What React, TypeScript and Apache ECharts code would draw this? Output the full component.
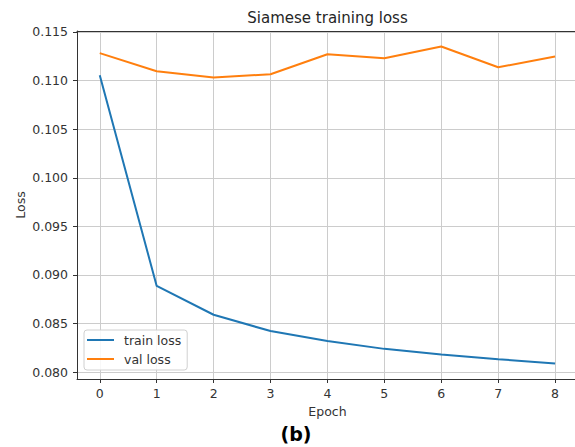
import React, { useEffect, useRef } from "react";
import * as echarts from "echarts";

const epochs = [0, 1, 2, 3, 4, 5, 6, 7, 8];
const trainLoss = [0.11055, 0.08887, 0.08591, 0.08423, 0.0832, 0.0824, 0.08182, 0.08134, 0.0809];
const valLoss = [0.11282, 0.11096, 0.11031, 0.11065, 0.11271, 0.1123, 0.11351, 0.11137, 0.11247];
const yTicks = [0.08, 0.085, 0.09, 0.095, 0.1, 0.105, 0.11, 0.115];
const titleText = "Siamese training loss";
const xName = "Epoch";
const yName = "Loss";
const caption = "(b)";

const FONT = "DejaVu Sans";

export default function App() {
  const ref = useRef<HTMLDivElement>(null);
  useEffect(() => {
    if (!ref.current) return;
    const chart = echarts.init(ref.current, null, { renderer: "svg" });
    const axisColor = "#333";
    const gridColor = "#cccccc";
    const option: any = {
      animation: false,
      backgroundColor: "#ffffff",
      grid: { left: 77, top: 31, right: 0, bottom: 68, containLabel: false },
      xAxis: [
        {
          type: "value",
          min: -0.4,
          max: 8.35,
          splitNumber: 9,
          axisLine: { show: true, lineStyle: { color: axisColor, width: 1 } },
          axisTick: { show: true, length: 4, customValues: epochs, lineStyle: { color: axisColor } },
          axisLabel: {
            margin: 8,
            color: "#333",
            fontFamily: FONT,
            fontSize: 12.5,
            customValues: epochs,
            formatter: (v: number) => String(Math.round(v)),
          },
          splitLine: { show: true, lineStyle: { color: gridColor, width: 1 } },
        },
        {
          type: "value",
          position: "top",
          min: -0.4,
          max: 8.35,
          axisLine: { show: true, onZero: false, lineStyle: { color: axisColor, width: 1 } },
          axisTick: { show: false },
          axisLabel: { show: false },
          splitLine: { show: false },
        },
      ],
      yAxis: {
        type: "value",
        min: 0.0793,
        max: 0.1151,
        splitNumber: 7,
        axisLine: { show: true, onZero: false, lineStyle: { color: axisColor, width: 1 } },
        axisTick: { show: true, length: 4, customValues: yTicks, lineStyle: { color: axisColor } },
        axisLabel: {
          margin: 9,
          color: "#333",
          fontFamily: FONT,
          fontSize: 12.5,
          customValues: yTicks,
          formatter: (v: number) => v.toFixed(3),
        },
        splitLine: { show: true, lineStyle: { color: gridColor, width: 1 } },
      },
      legend: {
        orient: "vertical",
        left: 84,
        top: 330,
        icon: "rect",
        itemWidth: 27,
        itemHeight: 2,
        itemGap: 5,
        padding: [3, 6, 4, 3],
        backgroundColor: "rgba(255,255,255,0.85)",
        borderColor: "#d0d0d0",
        borderWidth: 1,
        borderRadius: 3,
        textStyle: { fontFamily: FONT, fontSize: 12.5, color: "#333", lineHeight: 14, padding: [0, 0, 0, 5] },
        data: ["train loss", "val loss"],
      },
      series: [
        {
          name: "train loss",
          type: "line",
          data: epochs.map((e, i) => [e, trainLoss[i]]),
          showSymbol: false,
          symbol: "none",
          color: "#1f77b4",
          lineStyle: { color: "#1f77b4", width: 2 },
        },
        {
          name: "val loss",
          type: "line",
          data: epochs.map((e, i) => [e, valLoss[i]]),
          showSymbol: false,
          symbol: "none",
          color: "#ff7f0e",
          lineStyle: { color: "#ff7f0e", width: 2 },
        },
      ],
      graphic: [
        {
          type: "text",
          x: 327.5,
          y: 17.5,
          style: { text: titleText, fontFamily: FONT, fontSize: 15, fill: "#262626", align: "center", verticalAlign: "middle" },
        },
        {
          type: "text",
          x: 327.5,
          y: 411,
          style: { text: xName, fontFamily: FONT, fontSize: 12.5, fill: "#333", align: "center", verticalAlign: "middle" },
        },
        {
          type: "text",
          x: 20,
          y: 205,
          rotation: Math.PI / 2,
          style: { text: yName, fontFamily: FONT, fontSize: 12.5, fill: "#333", align: "center", verticalAlign: "middle" },
        },
        {
          type: "text",
          x: 296,
          y: 434,
          style: { text: caption, fontFamily: FONT, fontSize: 19, fontWeight: "bold", fill: "#000", align: "center", verticalAlign: "middle" },
        },
      ],
    };
    chart.setOption(option);
    return () => chart.dispose();
  }, []);
  return (
    <div
      ref={ref}
      style={{ position: "fixed", left: 0, top: 0, width: 575, height: 447, background: "#fff" }}
    />
  );
}
